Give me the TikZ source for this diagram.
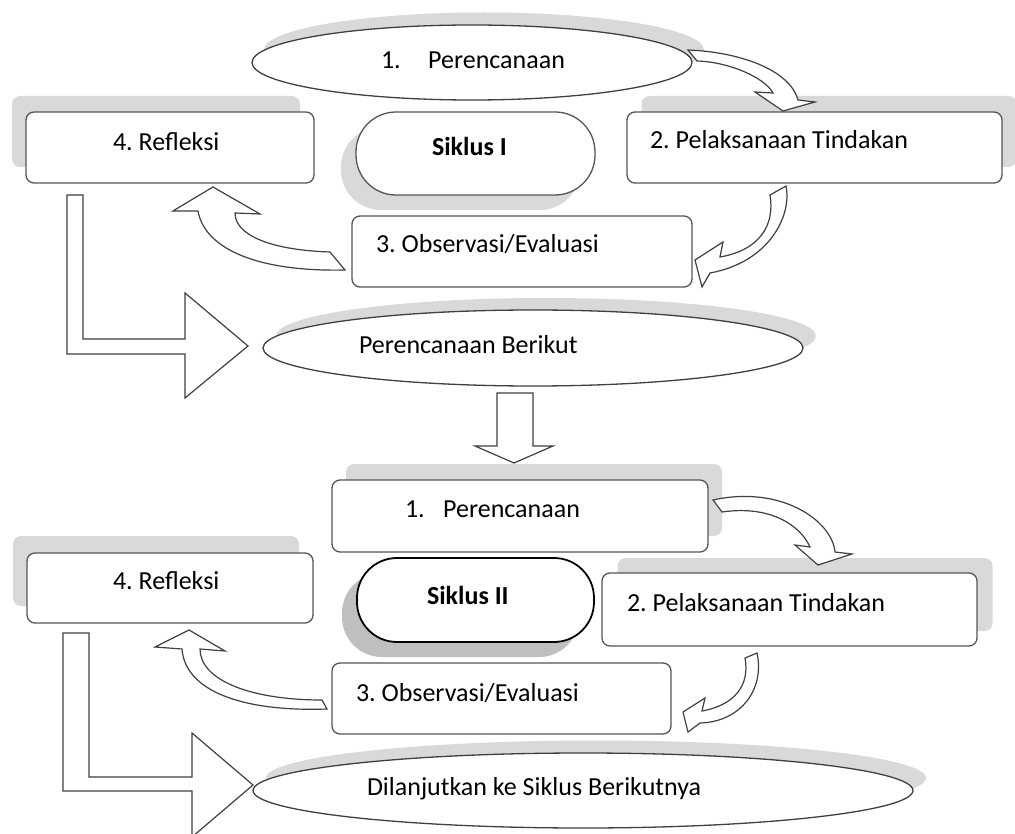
\documentclass[tikz,border=0pt]{standalone}
\usepackage{fontspec}
\setmainfont{Carlito}
\frenchspacing
\usetikzlibrary{shapes.geometric}
\definecolor{ol}{HTML}{555555}
\definecolor{eol}{HTML}{404040}
\definecolor{shd}{HTML}{D9D9D9}
\definecolor{shdd}{HTML}{BFBFBF}
\tikzset{
  rbox/.style={draw=ol, line width=1.3pt, fill=white, rounded corners=8pt, inner sep=0pt, outer sep=0pt},
  rshadow/.style={fill=shd, rounded corners=8pt, inner sep=0pt, outer sep=0pt},
  pill/.style={draw=ol, line width=1.3pt, fill=white, rounded corners=40pt, inner sep=0pt, outer sep=0pt},
  pillshadow/.style={fill=shd, rounded corners=40pt, inner sep=0pt, outer sep=0pt},
  ell/.style={ellipse, draw=eol, line width=1.3pt, fill=white, inner sep=0pt, outer sep=0pt},
  ellshadow/.style={ellipse, fill=shd, inner sep=0pt, outer sep=0pt},
  blockarrow/.style={draw=eol, line width=1.2pt, fill=white, line join=miter},
  lbl/.style={anchor=base west, inner sep=0pt, outer sep=0pt, font=\fontsize{26}{31}\selectfont},
  blbl/.style={lbl, font=\fontsize{26}{31}\selectfont\bfseries}
}
\begin{document}
\begin{tikzpicture}[x=1pt,y=-1pt]
\useasboundingbox (0,0) rectangle (1015,834);
\fill[white] (0,0) rectangle (1015,834);

% ---------- shadows ----------
\node[ellshadow, minimum width=440, minimum height=75] (e1s) at (484,50) {};
\node[rshadow, minimum width=288, minimum height=71] (r4s) at (156,131.5) {};
\node[rshadow, minimum width=375, minimum height=71] (r2s) at (829,131.5) {};
\node[pillshadow, minimum width=239, minimum height=83] (s1s) at (460.5,168.5) {};
\node[ellshadow, minimum width=540, minimum height=76] (e2s) at (546,336) {};

\node[rshadow, minimum width=376, minimum height=72] (b1s) at (534,500) {};
\node[fill=shdd, rounded corners=40pt, inner sep=0pt, minimum width=237, minimum height=84] (s2s) at (460.5,615) {};
\node[rshadow, minimum width=286, minimum height=70] (b4s) at (156,571) {};
\node[rshadow, minimum width=375, minimum height=73] (b2s) at (805,594.5) {};
\node[ellshadow, minimum width=660, minimum height=75] (e3s) at (596,778) {};

% ---------- shapes: cycle I ----------
\node[ell, minimum width=440, minimum height=75] (e1) at (472,62.5) {};
\node[rbox, minimum width=288, minimum height=71] (r4) at (170,147.5) {};
\node[rbox, minimum width=375, minimum height=71] (r2) at (814.5,147.5) {};
\node[pill, minimum width=239, minimum height=83] (s1) at (475.5,153.5) {};
\node[rbox, minimum width=340, minimum height=71] (r3) at (522,251.5) {};
\node[ell, minimum width=540, minimum height=76] (e2) at (533,348) {};

% ---------- shapes: cycle II ----------
\node[rbox, minimum width=376, minimum height=72] (b1) at (520,516) {};
\node[draw=black, line width=1.8pt, fill=white, rounded corners=40pt, inner sep=0pt, outer sep=0pt, minimum width=237, minimum height=84] (s2) at (475.5,600) {};
\node[rbox, minimum width=286, minimum height=70] (b4) at (170,588) {};
\node[rbox, minimum width=375, minimum height=73] (b2) at (789.5,609.5) {};
\node[rbox, minimum width=339, minimum height=71] (b3) at (501.5,698.5) {};
\node[ell, minimum width=660, minimum height=75] (e3) at (583,790.5) {};

% ---------- block arrows: cycle I ----------
% 1 -> 2
\draw[blockarrow] (688,50) .. controls (740,52) and (790,70) .. (798,100)
  -- (815,102) -- (783,111) -- (755,92) -- (773,93)
  .. controls (765,78) and (730,62) .. (697,61) -- cycle;
% 2 -> 3
\draw[blockarrow] (786,186) .. controls (792,215) and (770,262) .. (710,273)
  -- (702,287) -- (695,260) -- (723,242) -- (720,257)
  .. controls (760,250) and (775,225) .. (770,195) -- cycle;
% 3 -> 4
\draw[blockarrow] (330,252) .. controls (270,250) and (235,235) .. (235,213)
  -- (260,214) -- (213,187) -- (173,211) -- (198,211)
  .. controls (205,250) and (260,272) .. (345,270) -- cycle;
% 4 -> Perencanaan Berikut
\draw[blockarrow] (67,195) -- (83,195) -- (83,339) -- (185,339) -- (185,293)
  -- (248,346) -- (185,398) -- (185,354) -- (67,354) -- cycle;
% Perencanaan Berikut -> cycle II
\draw[blockarrow] (497,393) -- (533,393) -- (533,446) -- (553,446) -- (514,463)
  -- (475,446) -- (497,446) -- cycle;

% ---------- block arrows: cycle II ----------
% 1 -> 2
\draw[blockarrow] (713,500) .. controls (780,485) and (832,520) .. (835,552)
  -- (852,554) -- (818,565) -- (795,545) -- (810,547)
  .. controls (800,525) and (770,505) .. (722,512) -- cycle;
% 2 -> 3
\draw[blockarrow] (757,653) .. controls (765,690) and (740,722) .. (700,723)
  -- (688,732) -- (683,712) -- (705,698) -- (702,711)
  .. controls (735,705) and (750,685) .. (745,658) -- cycle;
% 3 -> 4
\draw[blockarrow] (322,700) .. controls (250,700) and (200,680) .. (200,649)
  -- (225,651) -- (189,630) -- (155,647) -- (182,649)
  .. controls (185,690) and (240,712) .. (327,709) -- cycle;
% 4 -> Dilanjutkan
\draw[blockarrow] (63,633) -- (89,633) -- (89,777) -- (192,777) -- (192,733)
  -- (253,785) -- (192,837) -- (192,791) -- (63,791) -- cycle;

% ---------- labels ----------
\node[lbl] (t1) at (381,69) {1.\hspace{27.5pt}Perencanaan};
\node[lbl] (t4) at (113,151) {4. Refleksi};
\node[blbl] (ts1) at (432,156) {Siklus I};
\node[lbl] (t2) at (650,149) {2. Pelaksanaan Tindakan};
\node[lbl] (t3) at (376,253) {3. Observasi/Evaluasi};
\node[lbl] (tpb) at (359,353) {Perencanaan Berikut};

\node[lbl] (u1) at (405,517) {1.\hspace{18.5pt}Perencanaan};
\node[lbl] (u4) at (113,589) {4. Refleksi};
\node[blbl] (us2) at (427,604) {Siklus II};
\node[lbl] (u2) at (627,611) {2. Pelaksanaan Tindakan};
\node[lbl] (u3) at (356,701) {3. Observasi/Evaluasi};
\node[lbl] (ud) at (367,795) {Dilanjutkan ke Siklus Berikutnya};
\end{tikzpicture}
\end{document}
